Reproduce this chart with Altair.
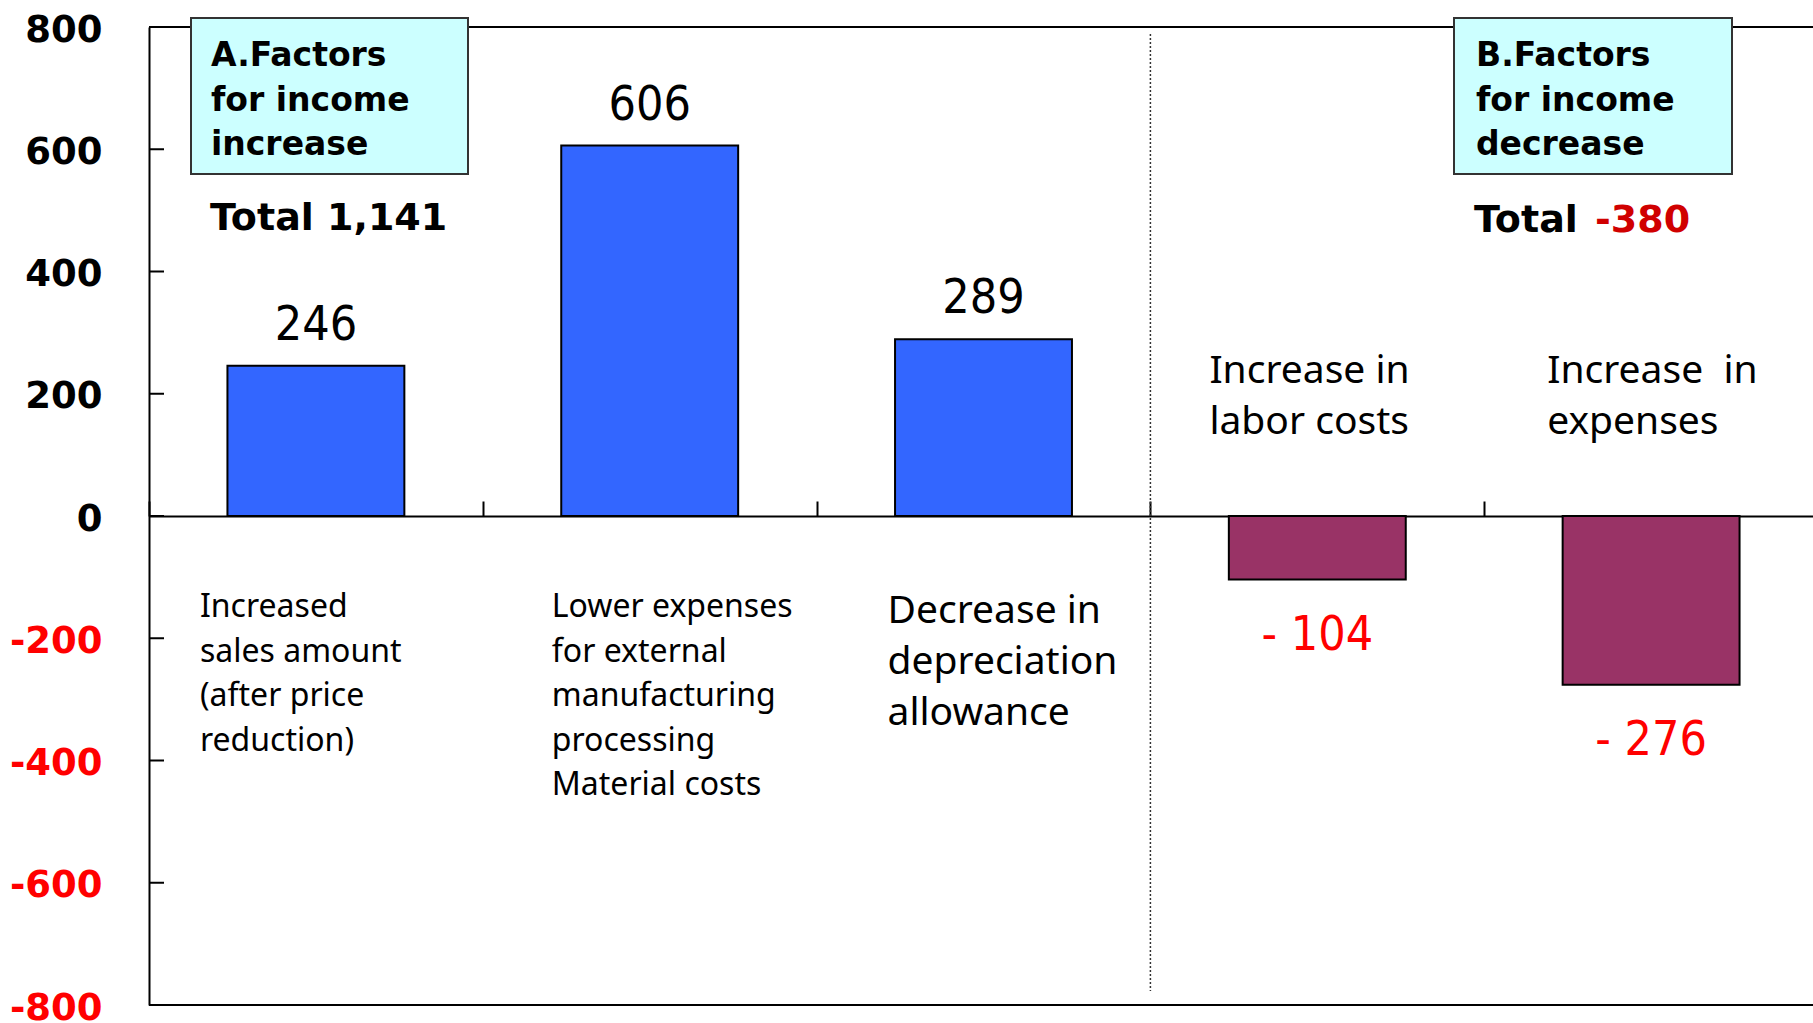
import altair as alt
import pandas as pd

# Income change factors (category text doubles as the description drawn under/over each bar)
categories = [
    "Increased\nsales amount\n(after price\nreduction)",
    "Lower expenses\nfor external\nmanufacturing\nprocessing\nMaterial costs",
    "Decrease in\ndepreciation\nallowance",
    "Increase in\nlabor costs",
    "Increase\u00a0 in\nexpenses",
]
values = [246, 606, 289, -104, -276]
groups = ["increase", "increase", "increase", "decrease", "decrease"]
y_ticks = [-800, -600, -400, -200, 0, 200, 400, 600, 800]
y_domain = [-800, 800]

df = pd.DataFrame({"category": categories, "value": values, "group": groups})
df["label"] = [f"{v}" if v >= 0 else f"- {abs(v)}" for v in values]

total_up = sum(v for v in values if v > 0)
total_down = sum(v for v in values if v < 0)

W, H = 1664, 978
X_SPAN = 1669  # the category scale runs slightly past the right edge of the view
BOLD = "DejaVu Sans"
REG = "Noto Sans"
NARROW = "Liberation Sans Narrow, DejaVu Sans Condensed, Noto Sans"

y_scale = alt.Scale(domain=y_domain, nice=False, zero=False)
x_scale = alt.Scale(paddingInner=0, paddingOuter=0, range=[0, X_SPAN])

# zero line with upward ticks at the category boundaries
x_ax = alt.Axis(orient="top", offset=-H / 2, labels=False, title=None,
                tickBand="extent", tickSize=15, tickColor="black",
                tickWidth=2, domainColor="black", domainWidth=2, grid=False)
y_ax = alt.Axis(values=y_ticks, title=None, grid=False, ticks=False, tickSize=0,
                domainColor="black", domainWidth=2, labelFont=BOLD,
                labelFontWeight="bold", labelFontSize=37, labelPadding=47,
                labelOffset=3, labelExpr="'' + datum.value",
                labelColor={"condition": {"test": "datum.value < 0", "value": "#FF0000"},
                            "value": "#000000"})


def xcat(**kw):
    return alt.X("category:N", sort=categories, scale=x_scale, axis=x_ax, **kw)


def yq(field):
    return alt.Y(f"{field}:Q", scale=y_scale, axis=y_ax)


base = alt.Chart(df)

bars = base.mark_bar(width=alt.RelativeBandSize(band=0.53), stroke="black", strokeWidth=2).encode(
    x=xcat(), y=yq("value"),
    color=alt.Color("group:N", scale=alt.Scale(domain=["increase", "decrease"],
                                               range=["#3366FF", "#993366"]), legend=None),
)

pos_labels = base.transform_filter("datum.value >= 0").mark_text(
    font=NARROW, fontSize=48, baseline="alphabetic", dy=-26, color="black"
).encode(x=xcat(), y=yq("value"), text="label:N")

neg_labels = base.transform_filter("datum.value < 0").mark_text(
    font=NARROW, fontSize=48, baseline="alphabetic", dy=70, color="#FF0000"
).encode(x=xcat(), y=yq("value"), text="label:N")

# frame lines at the top and bottom of the value range
frame = alt.Chart(pd.DataFrame({"value": y_domain})).mark_rule(color="black", strokeWidth=2).encode(
    y=yq("value"), x=alt.value(0), x2=alt.value(W)
)

# short inward ticks on the value axis
inner_ticks = alt.Chart(pd.DataFrame({"value": y_ticks})).mark_rule(color="black", strokeWidth=2).encode(
    y=yq("value"), x=alt.value(0), x2=alt.value(15)
)

# dotted divider between the increase and decrease groups
divider = base.transform_filter(alt.datum.category == categories[3]).mark_rule(
    color="#333333", strokeWidth=1.5, strokeDash=[2, 2]
).encode(
    x=xcat(bandPosition=0),
    y=alt.value(7), y2=alt.value(964),
)


def describe(cat, dx, y0, size, lh):
    return base.transform_filter(alt.datum.category == cat).mark_text(
        align="left", baseline="alphabetic", font=REG, fontSize=size,
        lineHeight=lh, lineBreak="\n", dx=dx, color="black",
    ).encode(
        x=xcat(bandPosition=0),
        y=alt.value(y0), text="category:N",
    )


descriptions = [
    describe(categories[0], 51, 590, 32, 44.5),
    describe(categories[1], 69, 590, 32, 44.5),
    describe(categories[2], 71, 596, 39, 51),
    describe(categories[3], 59, 356, 39, 51),
    describe(categories[4], 63, 356, 39, 51),
]

# heading boxes
boxes_df = pd.DataFrame({"heading": ["A.Factors\nfor income\nincrease", "B.Factors\nfor income\ndecrease"]})
box_a = alt.Chart(boxes_df.iloc[[0]]).mark_rect(fill="#CCFFFF", stroke="#333333", strokeWidth=2).encode(
    x=alt.value(42), x2=alt.value(319), y=alt.value(-9), y2=alt.value(147))
box_b = alt.Chart(boxes_df.iloc[[1]]).mark_rect(fill="#CCFFFF", stroke="#333333", strokeWidth=2).encode(
    x=alt.value(1305), x2=alt.value(1583), y=alt.value(-9), y2=alt.value(147))
head_a = alt.Chart(boxes_df.iloc[[0]]).mark_text(
    align="left", baseline="alphabetic", font=BOLD, fontWeight="bold", fontSize=33,
    lineHeight=44.5, lineBreak="\n", color="black").encode(
    x=alt.value(62), y=alt.value(39), text="heading:N")
head_b = alt.Chart(boxes_df.iloc[[1]]).mark_text(
    align="left", baseline="alphabetic", font=BOLD, fontWeight="bold", fontSize=33,
    lineHeight=44.5, lineBreak="\n", color="black").encode(
    x=alt.value(1327), y=alt.value(39), text="heading:N")

totals_df = pd.DataFrame({"t": [f"Total {total_up:,}", "Total", f"{total_down}"]})
total_a = alt.Chart(totals_df.iloc[[0]]).mark_text(
    align="left", baseline="alphabetic", font=BOLD, fontWeight="bold", fontSize=38, color="black"
).encode(x=alt.value(61), y=alt.value(203), text="t:N")
total_b = alt.Chart(totals_df.iloc[[1]]).mark_text(
    align="left", baseline="alphabetic", font=BOLD, fontWeight="bold", fontSize=38, color="black"
).encode(x=alt.value(1325), y=alt.value(205), text="t:N")
total_b_val = alt.Chart(totals_df.iloc[[2]]).mark_text(
    align="left", baseline="alphabetic", font=BOLD, fontWeight="bold", fontSize=38, color="#D00000"
).encode(x=alt.value(1446), y=alt.value(205), text="t:N")

chart = alt.layer(
    frame, divider, bars, inner_ticks, pos_labels, neg_labels, *descriptions,
    box_a, box_b, head_a, head_b, total_a, total_b, total_b_val,
).properties(
    width=W, height=H,
    padding={"left": 149, "top": 27, "right": 0, "bottom": 18},
    autosize=alt.AutoSizeParams(type="none"),
    background="white",
).configure_view(stroke=None)

chart.save("out.html", embed_options={"renderer": "svg", "actions": False})
